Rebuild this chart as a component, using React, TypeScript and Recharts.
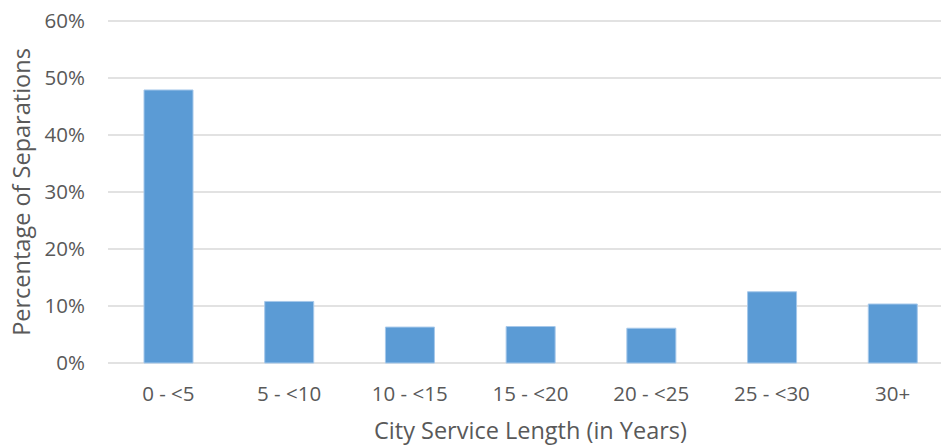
import React from "react";
import { BarChart, Bar, XAxis, YAxis, CartesianGrid } from "recharts";

const categories = ["0 - <5", "5 - <10", "10 - <15", "15 - <20", "20 - <25", "25 - <30", "30+"];
const separations = [0.479, 0.108, 0.063, 0.064, 0.061, 0.125, 0.1035];
const yTicks = [0, 0.1, 0.2, 0.3, 0.4, 0.5, 0.6];

const data = categories.map((c, i) => ({ name: c, value: separations[i] }));

const FONT = "'Open Sans', sans-serif";
const TEXT = "#595959";

export default function App() {
  return (
    <div style={{ position: "absolute", left: 0, top: 0, width: 941, height: 445, overflow: "hidden", background: "#fff" }}>
      <BarChart width={960} height={445} data={data} margin={{ top: 21, right: 7, left: 0, bottom: 0 }} barSize={49}>
        <CartesianGrid vertical={false} stroke="#D9D9D9" strokeWidth={1.3} />
        <XAxis
          dataKey="name"
          height={82}
          axisLine={false}
          tickLine={false}
          tickSize={0}
          tickMargin={23}
          tick={{ fill: TEXT, fontSize: 20.5, fontFamily: FONT }}
          interval={0}
          label={{ value: "City Service Length (in Years)", position: "insideBottom", offset: 6, fill: TEXT, fontSize: 23.5, fontFamily: FONT }}
        />
        <YAxis
          width={108}
          domain={[0, 0.6]}
          ticks={yTicks}
          axisLine={false}
          tickLine={false}
          tickSize={0}
          tickMargin={23}
          tickFormatter={(v: number) => `${Math.round(v * 100)}%`}
          tick={{ fill: TEXT, fontSize: 20.5, fontFamily: FONT }}
          label={{ value: "Percentage of Separations", angle: -90, position: "insideLeft", offset: 22, fill: TEXT, fontSize: 23.5, fontFamily: FONT, style: { textAnchor: "middle" } }}
        />
        <Bar dataKey="value" fill="#5B9BD5" stroke="#A6C8EA" strokeWidth={1} isAnimationActive={false} />
      </BarChart>
    </div>
  );
}
